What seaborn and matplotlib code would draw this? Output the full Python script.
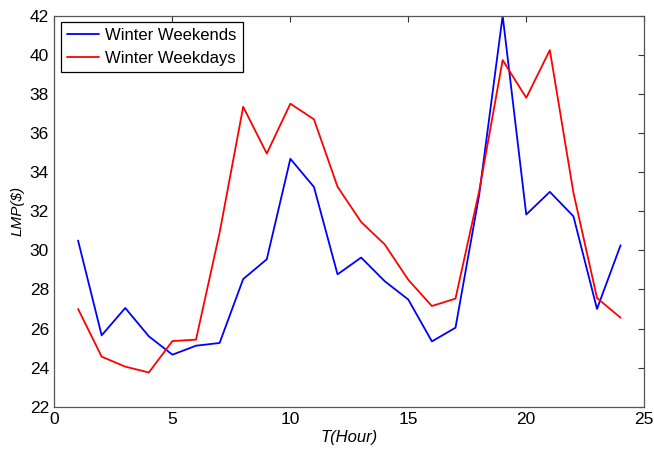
import numpy as np
import pandas as pd
import matplotlib
matplotlib.use("Agg")
import matplotlib.pyplot as plt
import seaborn as sns

hours = list(range(1, 25))
winter_weekends = [30.5, 25.65, 27.05, 25.6, 24.66, 25.12, 25.26, 28.53, 29.54, 34.68,
                   33.24, 28.77, 29.63, 28.42, 27.48, 25.34, 26.04, 32.8, 42.0, 31.83,
                   32.99, 31.74, 27.0, 30.26]
winter_weekdays = [27.0, 24.56, 24.05, 23.75, 25.36, 25.43, 30.9, 37.34, 34.95, 37.5,
                   36.7, 33.25, 31.45, 30.3, 28.49, 27.15, 27.53, 33.0, 39.73, 37.8,
                   40.24, 32.95, 27.56, 26.55]
series_names = ["Winter Weekends", "Winter Weekdays"]
series_colors = ["#0000ff", "#ff0000"]

df = pd.DataFrame({
    "hour": hours * 2,
    "lmp": winter_weekends + winter_weekdays,
    "series": [series_names[0]] * 24 + [series_names[1]] * 24,
})

sns.set_style("white")
plt.rcParams["font.family"] = ["Liberation Sans", "DejaVu Sans"]
plt.rcParams["text.color"] = "black"
plt.rcParams["axes.labelcolor"] = "black"

fig = plt.figure(figsize=(6.54, 4.5), dpi=100)
ax = fig.add_axes([0.0833, 0.0962, 0.9017, 0.8689])

sns.lineplot(data=df, x="hour", y="lmp", hue="series", hue_order=series_names,
             palette=series_colors, linewidth=1.3, ax=ax, legend=True)

ax.set_xlim(0, 25)
ax.set_ylim(22, 42)
ax.set_xticks(np.arange(0, 26, 5))
ax.set_yticks(np.arange(22, 43, 2))
ax.tick_params(direction="in", length=4, width=0.8, colors="#333333",
               labelcolor="black", labelsize=12.5, top=True, right=True, pad=4)
for s in ax.spines.values():
    s.set_color("#555555")
    s.set_linewidth(0.9)

ax.set_xlabel("T(Hour)", fontsize=12, fontstyle="italic", labelpad=2, color="black")
ax.set_ylabel("LMP($)", fontsize=11, fontstyle="italic", labelpad=4, color="black")

leg = ax.legend(loc="upper left", fontsize=12, frameon=True, fancybox=False,
                borderaxespad=0.4, handlelength=1.9, handletextpad=0.4,
                borderpad=0.35, labelspacing=0.45)
leg.get_frame().set_edgecolor("black")
leg.get_frame().set_linewidth(0.9)
leg.get_frame().set_alpha(1)
for t in leg.get_texts():
    t.set_color("black")

fig.savefig("out.png", dpi=100)
